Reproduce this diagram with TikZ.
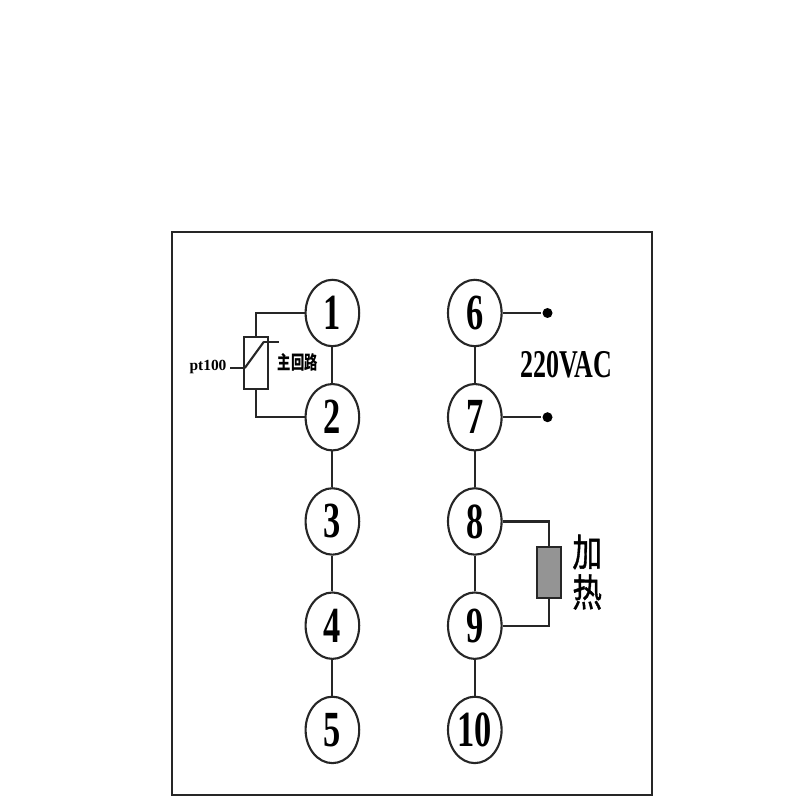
\documentclass[tikz,border=0pt]{standalone}
\usepackage{fontspec}
\usepackage{graphicx}
\newfontfamily\cjk{Noto Sans CJK SC}
\newfontfamily\cjkheavy[FakeBold=1.2]{Noto Sans CJK SC}
\setmainfont{Liberation Serif}
\usetikzlibrary{positioning,shapes.geometric}
\newcommand{\pinlabel}[1]{\scalebox{0.68}[1]{\bfseries\fontsize{36}{36}\selectfont #1}}

\begin{document}
\begin{tikzpicture}[line width=1.5pt,draw=black!85,node distance=0.893cm,
                main node/.style={ellipse,draw,minimum width=1.34cm,minimum height=1.66cm,inner sep=0pt},
                wire/.style={line width=1.5pt},
                box node/.style={rectangle,draw,minimum width=0.61cm,minimum height=1.28cm,inner sep=0pt},
                dot node/.style={circle,fill=black,inner sep=0pt,minimum size=0.25cm}]

        \useasboundingbox (0,0) rectangle (20,20);
        \node[draw,rectangle,minimum width=12cm,minimum height=14.07cm,inner sep=0pt] (frame) at (10.3,7.16) {};

        \node[main node] (1) at (8.31,12.175) {\pinlabel{1}};
        \node[main node] (2) [below=of 1] {\pinlabel{2}};
        \node[main node] (3) [below=of 2] {\pinlabel{3}};
        \node[main node] (4) [below=of 3] {\pinlabel{4}};
        \node[main node] (5) [below=of 4] {\pinlabel{5}};

        \node[main node] (6) at (11.87,12.175) {\pinlabel{6}};
        \node[main node] (7) [below=of 6] {\pinlabel{7}};
        \node[main node] (8) [below=of 7] {\pinlabel{8}};
        \node[main node] (9) [below=of 8] {\pinlabel{9}};
        \node[main node] (10) [below=of 9] {\pinlabel{10}};

        % sensor
        \node[box node] (pt) at (6.4,10.925) {};
        \coordinate (slashlow) at (6.12,10.8);
        \coordinate (slashhigh) at (6.6,11.46);
        \coordinate (leadleft) at (5.75,10.8);
        \coordinate (leadright) at (6.97,11.46);
        \node[font=\bfseries\fontsize{11}{11}\selectfont,inner sep=0pt] (ptlabel) at (5.2,10.82) {pt100};
        \node[inner sep=0pt] (looplabel) at (7.45,10.95) {\scalebox{1}[1.4]{\cjk\bfseries\fontsize{9.5}{9.5}\selectfont 主回路}};

        % supply
        \node[dot node] (dot6) [right=0.97cm of 6] {};
        \node[dot node] (dot7) [right=0.97cm of 7] {};
        \node[inner sep=0pt] (vac) at (14.15,10.88) {\scalebox{0.66}[1]{\bfseries\fontsize{28}{28}\selectfont 220VAC}};

        % heater
        \node[box node,fill=black!42] (heater) at (13.73,5.69) {};
        \node[inner sep=0pt] (heatone) at (14.68,6.2) {\scalebox{1}[1.3]{\cjkheavy\fontsize{21}{21}\selectfont 加}};
        \node[inner sep=0pt] (heattwo) at (14.68,5.2) {\scalebox{1}[1.3]{\cjkheavy\fontsize{21}{21}\selectfont 热}};

        \path[wire]
            (1) edge (2)
            (2) edge (3)
            (3) edge (4)
            (4) edge (5)
            (6) edge (7)
            (7) edge (8)
            (8) edge (9)
            (9) edge (10)
            (6) edge (dot6)
            (7) edge (dot7)
            (leadleft) edge (slashlow)
            (slashlow) edge (slashhigh)
            (slashhigh) edge (leadright);

        \draw[wire] (1) -| (pt);
        \draw[wire] (2) -| (pt);
        \draw[wire] (8) -| (heater);
        \draw[wire] (9) -| (heater);
\end{tikzpicture}
\end{document}
